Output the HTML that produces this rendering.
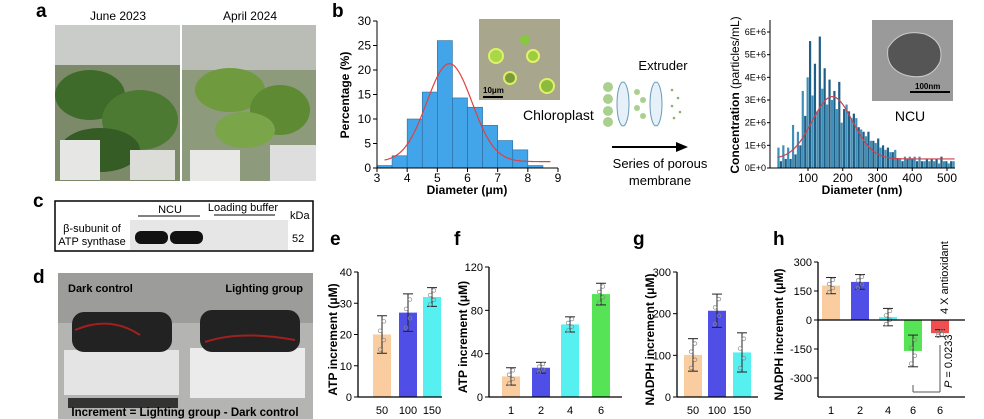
<!DOCTYPE html>
<html><head><meta charset="utf-8"><style>
body{margin:0;background:#fff;width:984px;height:419px;overflow:hidden}
svg{display:block;font-family:"Liberation Sans",Arial,sans-serif}
.lbl{font-weight:bold;font-size:19px}
.tk{font-size:11px}
.ttl{font-size:12px;font-weight:bold}
</style></head><body>
<svg id="fig" width="984" height="419" viewBox="0 0 984 419">
<text class="lbl" x="36" y="17">a</text>
<text x="118" y="20" font-size="12" text-anchor="middle">June 2023</text>
<text x="250" y="20" font-size="12" text-anchor="middle">April 2024</text>
<g>
<rect x="55" y="25" width="125" height="156" fill="#7d8a6a"/>
<rect x="55" y="25" width="125" height="40" fill="#c9ccc8"/>
<ellipse cx="90" cy="95" rx="35" ry="25" fill="#3f6b2a"/>
<ellipse cx="140" cy="120" rx="38" ry="30" fill="#4d7a33"/>
<ellipse cx="100" cy="150" rx="40" ry="22" fill="#365c25"/>
<rect x="60" y="140" width="40" height="40" fill="#e6e6e4"/>
<rect x="130" y="150" width="45" height="30" fill="#dcdcd8"/>
</g>
<g>
<rect x="182" y="25" width="134" height="156" fill="#8d9a7c"/>
<rect x="182" y="25" width="134" height="45" fill="#b9bdb5"/>
<ellipse cx="230" cy="90" rx="35" ry="22" fill="#6f9a3e"/>
<ellipse cx="280" cy="110" rx="30" ry="25" fill="#5d8a33"/>
<ellipse cx="245" cy="130" rx="30" ry="18" fill="#7aa548"/>
<rect x="190" y="150" width="50" height="31" fill="#e8e8e6"/>
<rect x="270" y="145" width="46" height="36" fill="#dedede"/>
</g>
<text class="lbl" x="332" y="17">b</text>
<g id="hist"></g>
<g>
<rect x="479" y="19" width="81" height="81" fill="#a8a68c"/>
<circle cx="496" cy="56" r="7" fill="#a8d848" stroke="#dff06a" stroke-width="2"/>
<circle cx="533" cy="56" r="6" fill="#9ccc40" stroke="#e4f26a" stroke-width="2"/>
<circle cx="510" cy="78" r="6" fill="#7c9a3a" stroke="#d8ee68" stroke-width="2"/>
<circle cx="547" cy="86" r="7" fill="#8cbc3c" stroke="#e0f06a" stroke-width="2"/>
<circle cx="525" cy="40" r="5" fill="#88c840"/>
<line x1="483" y1="97" x2="503" y2="97" stroke="#000" stroke-width="2"/>
<text x="483" y="93" font-size="8" font-weight="bold">10μm</text>
</g>
<text x="523" y="120" font-size="14">Chloroplast</text>
<g>
<text x="663" y="70" font-size="13" text-anchor="middle">Extruder</text>
<circle cx="608" cy="87" r="5" fill="#a9d08e"/><circle cx="608" cy="99" r="5" fill="#a9d08e"/><circle cx="608" cy="111" r="5" fill="#a9d08e"/><circle cx="608" cy="122" r="5" fill="#a9d08e"/>
<ellipse cx="623" cy="104" rx="6" ry="22" fill="#e6f0f8" stroke="#6a9ab8"/>
<circle cx="637" cy="92" r="3" fill="#a9d08e"/><circle cx="643" cy="100" r="3" fill="#a9d08e"/><circle cx="637" cy="108" r="3" fill="#a9d08e"/><circle cx="643" cy="116" r="3" fill="#a9d08e"/>
<ellipse cx="656" cy="104" rx="6" ry="22" fill="#e6f0f8" stroke="#6a9ab8"/>
<circle cx="672" cy="90" r="1.3" fill="#8ab070"/><circle cx="678" cy="98" r="1.3" fill="#8ab070"/><circle cx="672" cy="106" r="1.3" fill="#8ab070"/><circle cx="680" cy="112" r="1.3" fill="#8ab070"/><circle cx="674" cy="118" r="1.3" fill="#8ab070"/>
<line x1="612" y1="147" x2="678" y2="147" stroke="#000" stroke-width="2"/>
<polygon points="688,147 676,142 676,152" fill="#000"/>
<text x="660" y="168" font-size="13" text-anchor="middle">Series of porous</text>
<text x="660" y="185" font-size="13" text-anchor="middle">membrane</text>
</g>
<g id="ncu"></g>
<g>
<rect x="872" y="20" width="81" height="81" fill="#9a9a9a"/>
<path d="M888 48 Q900 28 925 34 Q945 42 940 62 Q930 82 905 75 Q885 68 888 48Z" fill="#555" stroke="#ccc"/>
<line x1="910" y1="92" x2="950" y2="92" stroke="#000" stroke-width="2"/>
<text x="915" y="89" font-size="8" font-weight="bold">100nm</text>
</g>
<text x="910" y="121" font-size="14" text-anchor="middle">NCU</text>
<text class="lbl" x="33" y="207">c</text>
<g>
<rect x="55" y="201" width="258" height="50" fill="#fff" stroke="#000" stroke-width="1.5"/>
<rect x="130" y="220" width="158" height="30" fill="#e6e6e6"/>
<rect x="135" y="231" width="33" height="13" rx="6" fill="#111"/>
<rect x="170" y="231" width="33" height="13" rx="6" fill="#111"/>
<text x="170" y="213" font-size="11" text-anchor="middle">NCU</text>
<line x1="138" y1="216" x2="200" y2="216" stroke="#000"/>
<text x="243" y="211" font-size="11" text-anchor="middle">Loading buffer</text>
<line x1="214" y1="215" x2="275" y2="215" stroke="#000"/>
<text x="290" y="219" font-size="11">kDa</text>
<text x="292" y="242" font-size="11">52</text>
<text x="92" y="232" font-size="11" text-anchor="middle">β-subunit of</text>
<text x="92" y="245" font-size="11" text-anchor="middle">ATP synthase</text>
</g>
<text class="lbl" x="33" y="283">d</text>
<g>
<rect x="58" y="273" width="255" height="146" fill="#b4b4b2"/>
<rect x="58" y="273" width="255" height="50" fill="#9c9c9a"/>
<rect x="64" y="350" width="115" height="45" fill="#e4e4e4"/>
<rect x="190" y="348" width="115" height="50" fill="#ebebeb"/>
<rect x="72" y="312" width="100" height="40" rx="12" fill="#222"/>
<rect x="200" y="310" width="100" height="42" rx="12" fill="#222"/>
<path d="M75 330 Q110 315 140 335 M205 342 Q240 330 295 340" stroke="#a02020" stroke-width="2" fill="none"/>
<rect x="68" y="398" width="110" height="10" fill="#333"/>
<text x="68" y="292" font-size="11" font-weight="bold">Dark control</text>
<text x="303" y="292" font-size="11" font-weight="bold" text-anchor="end">Lighting group</text>
<text x="185" y="416" font-size="11.5" font-weight="bold" text-anchor="middle">Increment = Lighting group - Dark control</text>
</g>
<text class="lbl" x="330" y="245">e</text>
<text class="lbl" x="454" y="245">f</text>
<text class="lbl" x="633" y="245">g</text>
<text class="lbl" x="773" y="245">h</text>
<g id="pe"></g>
<g id="pf"></g>
<g id="pg"></g>
<g id="ph"></g>
</svg>
<script>
const histBins=[3,3.5,4,4.5,5,5.5,6,6.5,7,7.5,8];
const histValues=[0.5,2.5,10,15.5,26,14.3,12.4,8.7,5.6,3.7,0.5];
const histXTicks=[3,4,5,6,7,8,9];
const histYTicks=[0,5,10,15,20,25,30];
const ncuBins=[15,22,29,36,43,50,57,64,71,78,85,92,99,106,113,120,127,134,141,148,155,162,169,176,183,190,197,204,211,218,225,232,239,246,253,260,267,274,281,288,295,302,309,316,323,330,337,344,351,358,365,372,379,386,393,400,407,414,421,428,435,442,449,456,463,470,477,484,491,498,505,512,519];
const ncuValues=[0.9,0.3,1.0,0.4,0.9,0.4,1.9,0.6,1.6,1.0,3.4,2.3,4.0,5.6,3.2,4.6,2.5,5.8,3.5,4.4,2.8,3.9,3.0,3.4,2.6,3.8,2.0,2.6,2.8,2.5,2.2,2.4,2.2,1.8,1.7,1.6,1.4,1.6,1.2,1.2,1.1,1.3,0.9,1.0,0.8,0.9,0.7,0.7,0.8,0.4,0.4,0.3,0.5,0.4,0.5,0.4,0.5,0.3,0.5,0.3,0.3,0.4,0.3,0.4,0.3,0.4,0.2,0.5,0.3,0.3,0.2,0.3,0.3];
const ncuXTicks=[100,200,300,400,500];
const ncuYTicks=[0,1,2,3,4,5,6];
const eCats=["50","100","150"],eVals=[20,27,32],eErr=[6,6,3],eTicks=[0,10,20,30,40];
const fCats=["1","2","4","6"],fVals=[19,27,67,95],fErr=[8,5,7,10],fTicks=[0,40,80,120];
const gCats=["50","100","150"],gVals=[101,207,107],gErr=[39,40,47],gTicks=[0,100,200,300];
const hCats=["1","2","4","6","6"],hVals=[178,197,15,-160,-68],hErr=[42,38,45,82,18],hTicks=[-300,-150,0,150,300];
const NS="http://www.w3.org/2000/svg";
function mk(p,t,a,txt){const e=document.createElementNS(NS,t);for(const k in a)e.setAttribute(k,a[k]);if(txt!=null)e.textContent=txt;p.appendChild(e);return e;}
function lin(d0,d1,r0,r1){return v=>r0+(v-d0)*(r1-r0)/(d1-d0);}
(function(){const g=document.getElementById('hist');
const x=lin(3,9,377,558),y=lin(0,30,168,21);
histValues.forEach((v,i)=>{const r=mk(g,'rect',{x:x(histBins[i]),y:y(v),width:x(histBins[i]+0.5)-x(histBins[i]),height:y(0)-y(v),fill:'#42a5ea',stroke:'#2b6a9a','stroke-width':0.6});

});
let d='';for(let t=3.25;t<=8.75;t+=0.05){const v=1.3+20*Math.exp(-Math.pow(t-5.4,2)/(2*0.75*0.75));d+=(d?'L':'M')+x(t)+' '+y(v);}
mk(g,'path',{d:d,stroke:'#e04040',fill:'none','stroke-width':1.2});
mk(g,'line',{x1:377,y1:168,x2:558,y2:168,stroke:'#000'});mk(g,'line',{x1:377,y1:21,x2:377,y2:168,stroke:'#000'});
histXTicks.forEach(t=>{mk(g,'line',{x1:x(t),y1:168,x2:x(t),y2:172,stroke:'#000'});mk(g,'text',{x:x(t),y:182,'font-size':12,'text-anchor':'middle'},t);});
histYTicks.forEach(t=>{mk(g,'line',{x1:373,y1:y(t),x2:377,y2:y(t),stroke:'#000'});mk(g,'text',{x:371,y:y(t)+4,'font-size':12,'text-anchor':'end'},t);});
mk(g,'text',{x:467,y:194,class:'ttl','text-anchor':'middle'},'Diameter (μm)');
mk(g,'text',{class:'ttl',transform:'translate(349,95) rotate(-90)','text-anchor':'middle'},'Percentage (%)');
})();
(function(){const g=document.getElementById('ncu');
const x=lin(100,500,808,947),y=lin(0,6,168,32);
ncuValues.forEach((v,i)=>{const r=mk(g,'rect',{x:x(ncuBins[i])-1.1,y:y(v),width:2.2,height:y(0)-y(v),fill:i%2?'#1f5f85':'#3f8fb8'});

});
let d='';for(let t=12;t<=522;t+=3){const v=0.4+2.75*Math.exp(-Math.pow(t-170,2)/(2*58*58));d+=(d?'L':'M')+x(t)+' '+y(v);}
mk(g,'path',{d:d,stroke:'#d04050',fill:'none','stroke-width':1.2});
mk(g,'line',{x1:770,y1:168,x2:955,y2:168,stroke:'#000'});mk(g,'line',{x1:770,y1:20,x2:770,y2:168,stroke:'#000'});
ncuXTicks.forEach(t=>{mk(g,'line',{x1:x(t),y1:168,x2:x(t),y2:171,stroke:'#000'});mk(g,'text',{x:x(t),y:182,'font-size':12,'text-anchor':'middle'},t);});
ncuYTicks.forEach(t=>{mk(g,'line',{x1:767,y1:y(t),x2:770,y2:y(t),stroke:'#000'});mk(g,'text',{x:766,y:y(t)+3,'font-size':9,'text-anchor':'end'},t+'E+'+(t?6:0));});
mk(g,'text',{x:862,y:194,class:'ttl','text-anchor':'middle'},'Diameter (nm)');
mk(g,'text',{transform:'translate(739,95) rotate(-90)','text-anchor':'middle','font-size':12},'').innerHTML='<tspan font-weight="bold">Concentration</tspan> (particles/mL)';
})();
const cols=['#f8c895','#3c3ce6','#44eef0','#44e044','#ee3c3c'];
function bar(id,cats,vals,errs,ticks,ax,x0,x1,yTop,yBot,dmin,dmax,centers,title,axBot){
const g=document.getElementById(id);const y=lin(dmin,dmax,yBot,yTop);const zl=axBot!=null;if(!zl)axBot=yBot;
vals.forEach((v,i)=>{const c=centers[i];const r=mk(g,'rect',{x:c-9,y:Math.min(y(v),y(0)),width:18,height:Math.abs(y(v)-y(0)),fill:cols[i],opacity:0.9});


const e=errs[i];mk(g,'line',{x1:c,y1:y(v-e),x2:c,y2:y(v+e),stroke:'#222'});
mk(g,'line',{x1:c-5,y1:y(v-e),x2:c+5,y2:y(v-e),stroke:'#222'});mk(g,'line',{x1:c-5,y1:y(v+e),x2:c+5,y2:y(v+e),stroke:'#222'});
[-0.8,-0.3,0.2,0.7].forEach((k,j)=>mk(g,'circle',{cx:c+(j%2?2:-2),cy:y(v+k*e),r:1.8,fill:'none',stroke:'#888','stroke-width':0.7}));
mk(g,'text',{x:c,y:axBot+17,'font-size':11,'text-anchor':'middle'},cats[i]);});
mk(g,'line',{x1:ax,y1:y(dmax),x2:ax,y2:axBot,stroke:'#000','stroke-width':1.3});
mk(g,'line',{x1:ax,y1:axBot,x2:x1,y2:axBot,stroke:'#000','stroke-width':1.3});
if(zl)mk(g,'line',{x1:ax,y1:y(0),x2:x1,y2:y(0),stroke:'#000','stroke-width':1.3});
ticks.forEach(t=>{mk(g,'line',{x1:ax-4,y1:y(t),x2:ax,y2:y(t),stroke:'#000'});mk(g,'text',{x:ax-6,y:y(t)+4,'font-size':11,'text-anchor':'end'},t);});
mk(g,'text',{transform:'translate('+(x0)+','+((axBot+y(dmax))/2+5)+') rotate(-90)','text-anchor':'middle',class:'ttl'},title);}
bar('pe',eCats,eVals,eErr,eTicks,358,337,442,272,397,0,40,[382,408,432],'ATP increment (μM)');
bar('pf',fCats,fVals,fErr,fTicks,489,467,622,267,397,0,120,[511,541,570,601],'ATP increment (μM)');
bar('pg',gCats,gVals,gErr,gTicks,677,654,758,272,397,0,300,[693,717,742],'NADPH increment (μM)');
bar('ph',hCats,hVals,hErr,hTicks,818,783,965,262,378,-300,300,[831,860,888,913,940],'NADPH increment (μM)',397);
(function(){const g=document.getElementById('ph');
mk(g,'line',{x1:913,y1:385,x2:913,y2:392,stroke:'#555'});mk(g,'line',{x1:913,y1:392,x2:940,y2:392,stroke:'#555'});mk(g,'line',{x1:940,y1:345,x2:940,y2:392,stroke:'#555'});
mk(g,'text',{transform:'translate(948,314) rotate(-90)','font-size':11},'4 X antioxidant');
mk(g,'text',{transform:'translate(952,388) rotate(-90)','font-size':11},'').innerHTML='<tspan font-style="italic">P</tspan> = 0.0233';})();
</script>
</body></html>
